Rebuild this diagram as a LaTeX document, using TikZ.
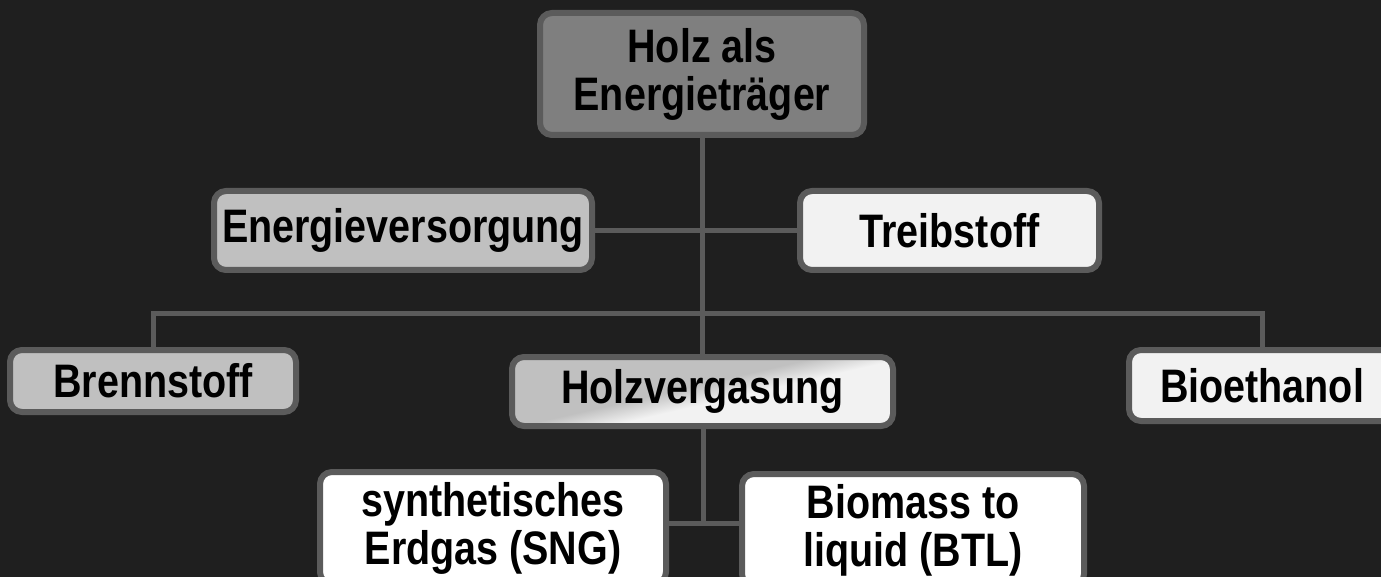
\documentclass[tikz,border=0pt]{standalone}
\usepackage{fontspec}
\setmainfont{Liberation Sans}[FakeStretch=0.84]
\usepackage{tikz}
\definecolor{backdrop}{HTML}{1F1F1F}
\definecolor{rim}{HTML}{5B5B5B}
\definecolor{darkbox}{HTML}{7F7F7F}
\definecolor{midbox}{HTML}{C0C0C0}
\definecolor{palebox}{HTML}{F2F2F2}
\pgfdeclareverticalshading{holzshade}{100bp}{color(0bp)=(palebox); color(45bp)=(palebox);
  color(53bp)=(midbox); color(100bp)=(midbox)}

\begin{document}
\begin{tikzpicture}[x=0.5pt,y=-0.5pt,
  box/.style={draw=rim,line width=3pt,rounded corners=6pt,align=center,inner sep=0pt,
    font=\bfseries\fontsize{23.5}{24}\selectfont},
  conn/.style={draw=rim,line width=2.5pt}]
  \fill[backdrop] (0,0) rectangle (1381,577);
  \useasboundingbox (0,0) rectangle (1381,577);
  \clip (0,0) rectangle (1381,577);
  % nodes
  \node[box,fill=darkbox,minimum width=162pt,minimum height=61pt] (holz) at (702,74)
    {Holz als\\Energieträger};
  \node[box,fill=midbox,minimum width=189pt,minimum height=39.5pt] (versorgung) at (403,230.5)
    {Energieversorgung};
  \node[box,fill=palebox,minimum width=149.5pt,minimum height=39.5pt] (treibstoff) at (949.5,230.5)
    {Treibstoff};
  \node[box,fill=midbox,minimum width=143pt,minimum height=31pt] (brennstoff) at (153,381)
    {Brennstoff};
  \node[box,shading=holzshade,shading angle=13,minimum width=190.5pt,minimum height=34.5pt]
    (vergasung) at (702.5,391.5) {Holzvergasung};
  \node[box,fill=palebox,minimum width=133pt,minimum height=35.5pt] (ethanol) at (1262,385.5)
    {Bioethanol};
  \node[box,fill=white,minimum width=173pt,minimum height=56pt] (sng) at (493,528)
    {synthetisches\\Erdgas (SNG)};
  \node[box,fill=white,minimum width=171pt,minimum height=56pt] (btl) at (913,530)
    {Biomass to\\liquid (BTL)};
  % connectors
  \coordinate (bar) at (702,313);
  \coordinate (fork) at (703,523);
  \draw[conn] (holz.south) -- (holz.south |- vergasung.north);
  \draw[conn] (versorgung.east) -- (treibstoff.west);
  \draw[conn] (brennstoff.north) |- (bar) -| (ethanol.north);
  \draw[conn] (vergasung.south -| fork) -- (fork);
  \draw[conn] (sng.east |- fork) -- (btl.west |- fork);
\end{tikzpicture}
\end{document}
